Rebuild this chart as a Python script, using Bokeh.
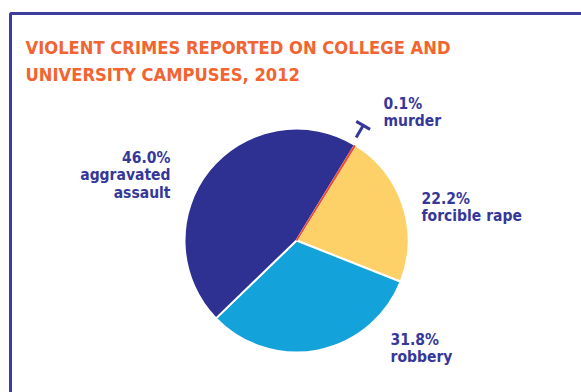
import math
from bokeh.plotting import figure
from bokeh.models import Range1d, ColumnDataSource
from bokeh.core.properties import value
from bokeh.embed import file_html
from bokeh.resources import INLINE

# ---- data ----
categories = ["murder", "forcible rape", "robbery", "aggravated assault"]
shares = [0.1, 22.2, 31.8, 46.0]
label_lines = [["murder"], ["forcible rape"], ["robbery"], ["aggravated", "assault"]]
colors = ["#ee4b35", "#fdd068", "#13a3da", "#2e3192"]
title_lines = ["VIOLENT CRIMES REPORTED ON COLLEGE AND", "UNIVERSITY CAMPUSES, 2012"]

# ---- layout ----
W, H = 581, 392
FONT = value("'DejaVu Sans Condensed', 'Roboto Condensed', Roboto, sans-serif")
TEXT_COLOR = "#35379a"
cx, cy, r = 296, H - 240, 112
start0 = math.radians(58.6)
# label anchors (x, first baseline in pixel rows, align)
label_pos = [(383, 103, "left"), (421, 198, "left"), (390, 339, "left"), (170, 157, "right")]
line_gap = 17.5

p = figure(width=W, height=H, x_range=Range1d(0, W), y_range=Range1d(0, H),
           output_backend="svg", toolbar_location=None,
           x_axis_location=None, y_axis_location=None,
           min_border=0, min_border_left=0, min_border_right=0,
           min_border_top=0, min_border_bottom=0)
p.grid.visible = False
p.outline_line_color = None
p.background_fill_color = "white"
p.border_fill_color = "white"

# frame border
p.line([10, 10, W], [0, H - 13, H - 13], line_color="#3d3d9f", line_width=3)

# title
for i, t in enumerate(title_lines):
    p.text(x=[25], y=[H - (47 + 27 * i)], text=[t], text_font=FONT, text_font_style="bold",
           text_font_size="18.2px", text_color="#f26430", text_baseline="alphabetic")

# wedges
total = sum(shares)
starts, ends = [], []
cum = 0.0
for s in shares:
    starts.append(start0 - 2 * math.pi * cum / total)
    cum += s
    ends.append(start0 - 2 * math.pi * cum / total)

src = ColumnDataSource(dict(start=starts[1:], end=ends[1:], color=colors[1:]))
p.wedge(x=cx, y=cy, radius=r, start_angle="start", end_angle="end", direction="clock",
        fill_color="color", line_color="white", line_width=2, source=src)
src_m = ColumnDataSource(dict(start=starts[:1], end=ends[:1], color=colors[:1]))
p.wedge(x=cx, y=cy, radius=r - 1, start_angle="start", end_angle="end", direction="clock",
        fill_color="color", line_color="color", line_width=1.6, source=src_m)

# T marker for tiny slice
am = (starts[0] + ends[0]) / 2 + math.radians(1.5)
r1, r2, hb = 119, 133, 8
x1, y1 = cx + r1 * math.cos(am), cy + r1 * math.sin(am)
x2, y2 = cx + r2 * math.cos(am), cy + r2 * math.sin(am)
px, py = -math.sin(am), math.cos(am)
p.segment(x0=[x1, x2 - hb * px], y0=[y1, y2 - hb * py], x1=[x2, x2 + hb * px], y1=[y2, y2 + hb * py],
          line_color=TEXT_COLOR, line_width=3)

# labels
for s, lines, (lx, ly, al) in zip(shares, label_lines, label_pos):
    texts = [f"{s:.1f}%"] + lines
    for j, t in enumerate(texts):
        p.text(x=[lx], y=[H - (ly + line_gap * j)], text=[t], text_font=FONT, text_font_style="bold",
               text_font_size="15.5px", text_color=TEXT_COLOR, text_align=al, text_baseline="alphabetic")

open("out.html", "w").write(file_html(p, INLINE))
